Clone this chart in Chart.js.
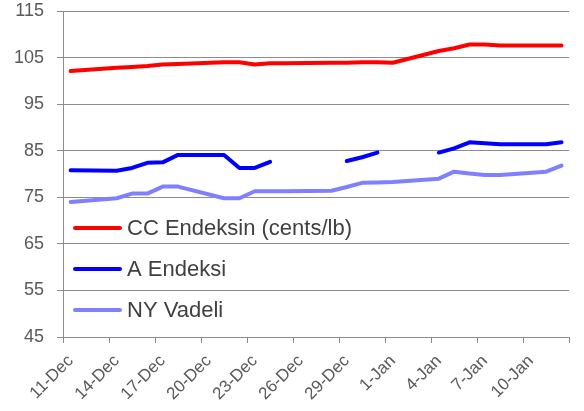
<!DOCTYPE html>
<html>
<head>
<meta charset="utf-8">
<script src="https://cdn.jsdelivr.net/npm/chart.js@4.4.0/dist/chart.umd.min.js"></script>
<style>
    html, body { margin: 0; padding: 0; background: #fff; }
    #wrap { position: relative; width: 584px; height: 411px; }
</style>
</head>
<body>
<div id="wrap"><canvas id="chart"></canvas></div>
<script>
'use strict';

// every calendar day on the axis (11-Dec .. 12-Jan)
const dayLabels = [
    '11-Dec', '12-Dec', '13-Dec', '14-Dec', '15-Dec', '16-Dec', '17-Dec', '18-Dec',
    '19-Dec', '20-Dec', '21-Dec', '22-Dec', '23-Dec', '24-Dec', '25-Dec', '26-Dec',
    '27-Dec', '28-Dec', '29-Dec', '30-Dec', '31-Dec', '1-Jan', '2-Jan', '3-Jan',
    '4-Jan', '5-Jan', '6-Jan', '7-Jan', '8-Jan', '9-Jan', '10-Jan', '11-Jan', '12-Jan'
];

// trading days that carry a row of data
const tradeDays = [
    '11-Dec', '14-Dec', '15-Dec', '16-Dec', '17-Dec', '18-Dec', '21-Dec', '22-Dec',
    '23-Dec', '24-Dec', '25-Dec', '28-Dec', '29-Dec', '30-Dec', '31-Dec', '1-Jan',
    '4-Jan', '5-Jan', '6-Jan', '7-Jan', '8-Jan', '11-Jan', '12-Jan'
];

const ccIndex = [
    102.1, 102.8, 103.0, 103.2, 103.5, 103.6, 104.0, 104.0,
    103.5, 103.8, 103.8, 103.9, 103.9, 104.0, 104.0, 103.9,
    106.4, 107.0, 107.8, 107.8, 107.6, 107.6, 107.6
];

const aIndex = [
    80.8, 80.7, 81.3, 82.4, 82.5, 84.1, 84.1, 81.3,
    81.3, 82.6, null, null, 82.8, 83.6, 84.6, null,
    84.6, 85.5, 86.8, 86.6, 86.4, 86.4, 86.8
];

const nyFutures = [
    74.0, 74.8, 75.8, 75.8, 77.3, 77.3, 74.8, 74.8,
    76.3, 76.3, 76.3, 76.4, 77.2, 78.1, 78.2, 78.3,
    79.0, 80.5, 80.1, 79.8, 79.8, 80.5, 81.8
];

const seriesNames = ['CC Endeksin (cents/lb)', 'A Endeksi', 'NY Vadeli'];
const seriesColors = ['#ff0000', '#0000ff', '#8080ff'];

const yTicks = { min: 45, max: 115, step: 10 };

const AXIS_GRAY = '#8c8c8c';
const TEXT_GRAY = '#595959';
const FONT = '"Liberation Sans", Arial, sans-serif';

function toPoints(values) {
    return tradeDays.map((day, i) => ({ x: day, y: values[i] }));
}

function makeDataset(label, values, color) {
    return {
        label,
        data: toPoints(values),
        borderColor: color,
        backgroundColor: color,
        borderWidth: 4,
        borderCapStyle: 'round',
        borderJoinStyle: 'round',
        pointRadius: 0,
        tension: 0,
        fill: false,
        spanGaps: false,
    };
}

// legend sits inside the plot, under the lines
const insideLegend = {
    id: 'insideLegend',
    afterDatasetsDraw(chart) {
        const ctx = chart.ctx;
        const rows = [228, 269, 310];
        ctx.save();
        chart.data.datasets.forEach((ds, i) => {
            const y = rows[i];
            ctx.strokeStyle = ds.borderColor;
            ctx.lineWidth = 4;
            ctx.lineCap = 'round';
            ctx.beginPath();
            ctx.moveTo(75, y);
            ctx.lineTo(120, y);
            ctx.stroke();
            ctx.fillStyle = '#404040';
            ctx.font = '22px ' + FONT;
            ctx.textBaseline = 'middle';
            ctx.textAlign = 'left';
            ctx.fillText(ds.label, 127, y + 1);
        });
        ctx.restore();
    }
};

const chart = new Chart(document.getElementById('chart'), {
    type: 'line',
    data: {
        labels: dayLabels,
        datasets: [
            makeDataset(seriesNames[0], ccIndex, seriesColors[0]),
            makeDataset(seriesNames[1], aIndex, seriesColors[1]),
            makeDataset(seriesNames[2], nyFutures, seriesColors[2]),
        ]
    },
    options: {
        responsive: true,
        maintainAspectRatio: false,
        animation: false,
        layout: { padding: { top: 0, right: 3, left: 0, bottom: 0 } },
        plugins: {
            legend: { display: false },
            tooltip: { enabled: false },
        },
        scales: {
            x: {
                type: 'category',
                offset: true,
                grid: {
                    offset: true,
                    drawOnChartArea: false,
                    drawTicks: true,
                    tickLength: 6,
                    color: c => (c.index === undefined || c.index % 3 === 0) ? AXIS_GRAY : 'rgba(0,0,0,0)',
                },
                border: { display: true, color: AXIS_GRAY, width: 1 },
                ticks: {
                    autoSkip: false,
                    minRotation: 45,
                    maxRotation: 45,
                    padding: 8,
                    color: TEXT_GRAY,
                    font: { family: FONT, size: 17 },
                    callback: (v, i) => (i % 3 === 0 ? dayLabels[i] : ''),
                },
                afterFit: scale => { scale.height = 74; },
            },
            y: {
                min: yTicks.min,
                max: yTicks.max,
                grid: {
                    color: AXIS_GRAY,
                    drawTicks: true,
                    tickLength: 6,
                },
                border: { display: true, color: AXIS_GRAY, width: 1 },
                ticks: {
                    stepSize: yTicks.step,
                    padding: 13,
                    color: TEXT_GRAY,
                    font: { family: FONT, size: 18 },
                },
                afterFit: scale => {
                    scale.width = 63;
                    scale.paddingTop = 11;
                    scale.paddingBottom = 0;
                },
            }
        }
    },
    plugins: [insideLegend]
});
</script>
</body>
</html>
